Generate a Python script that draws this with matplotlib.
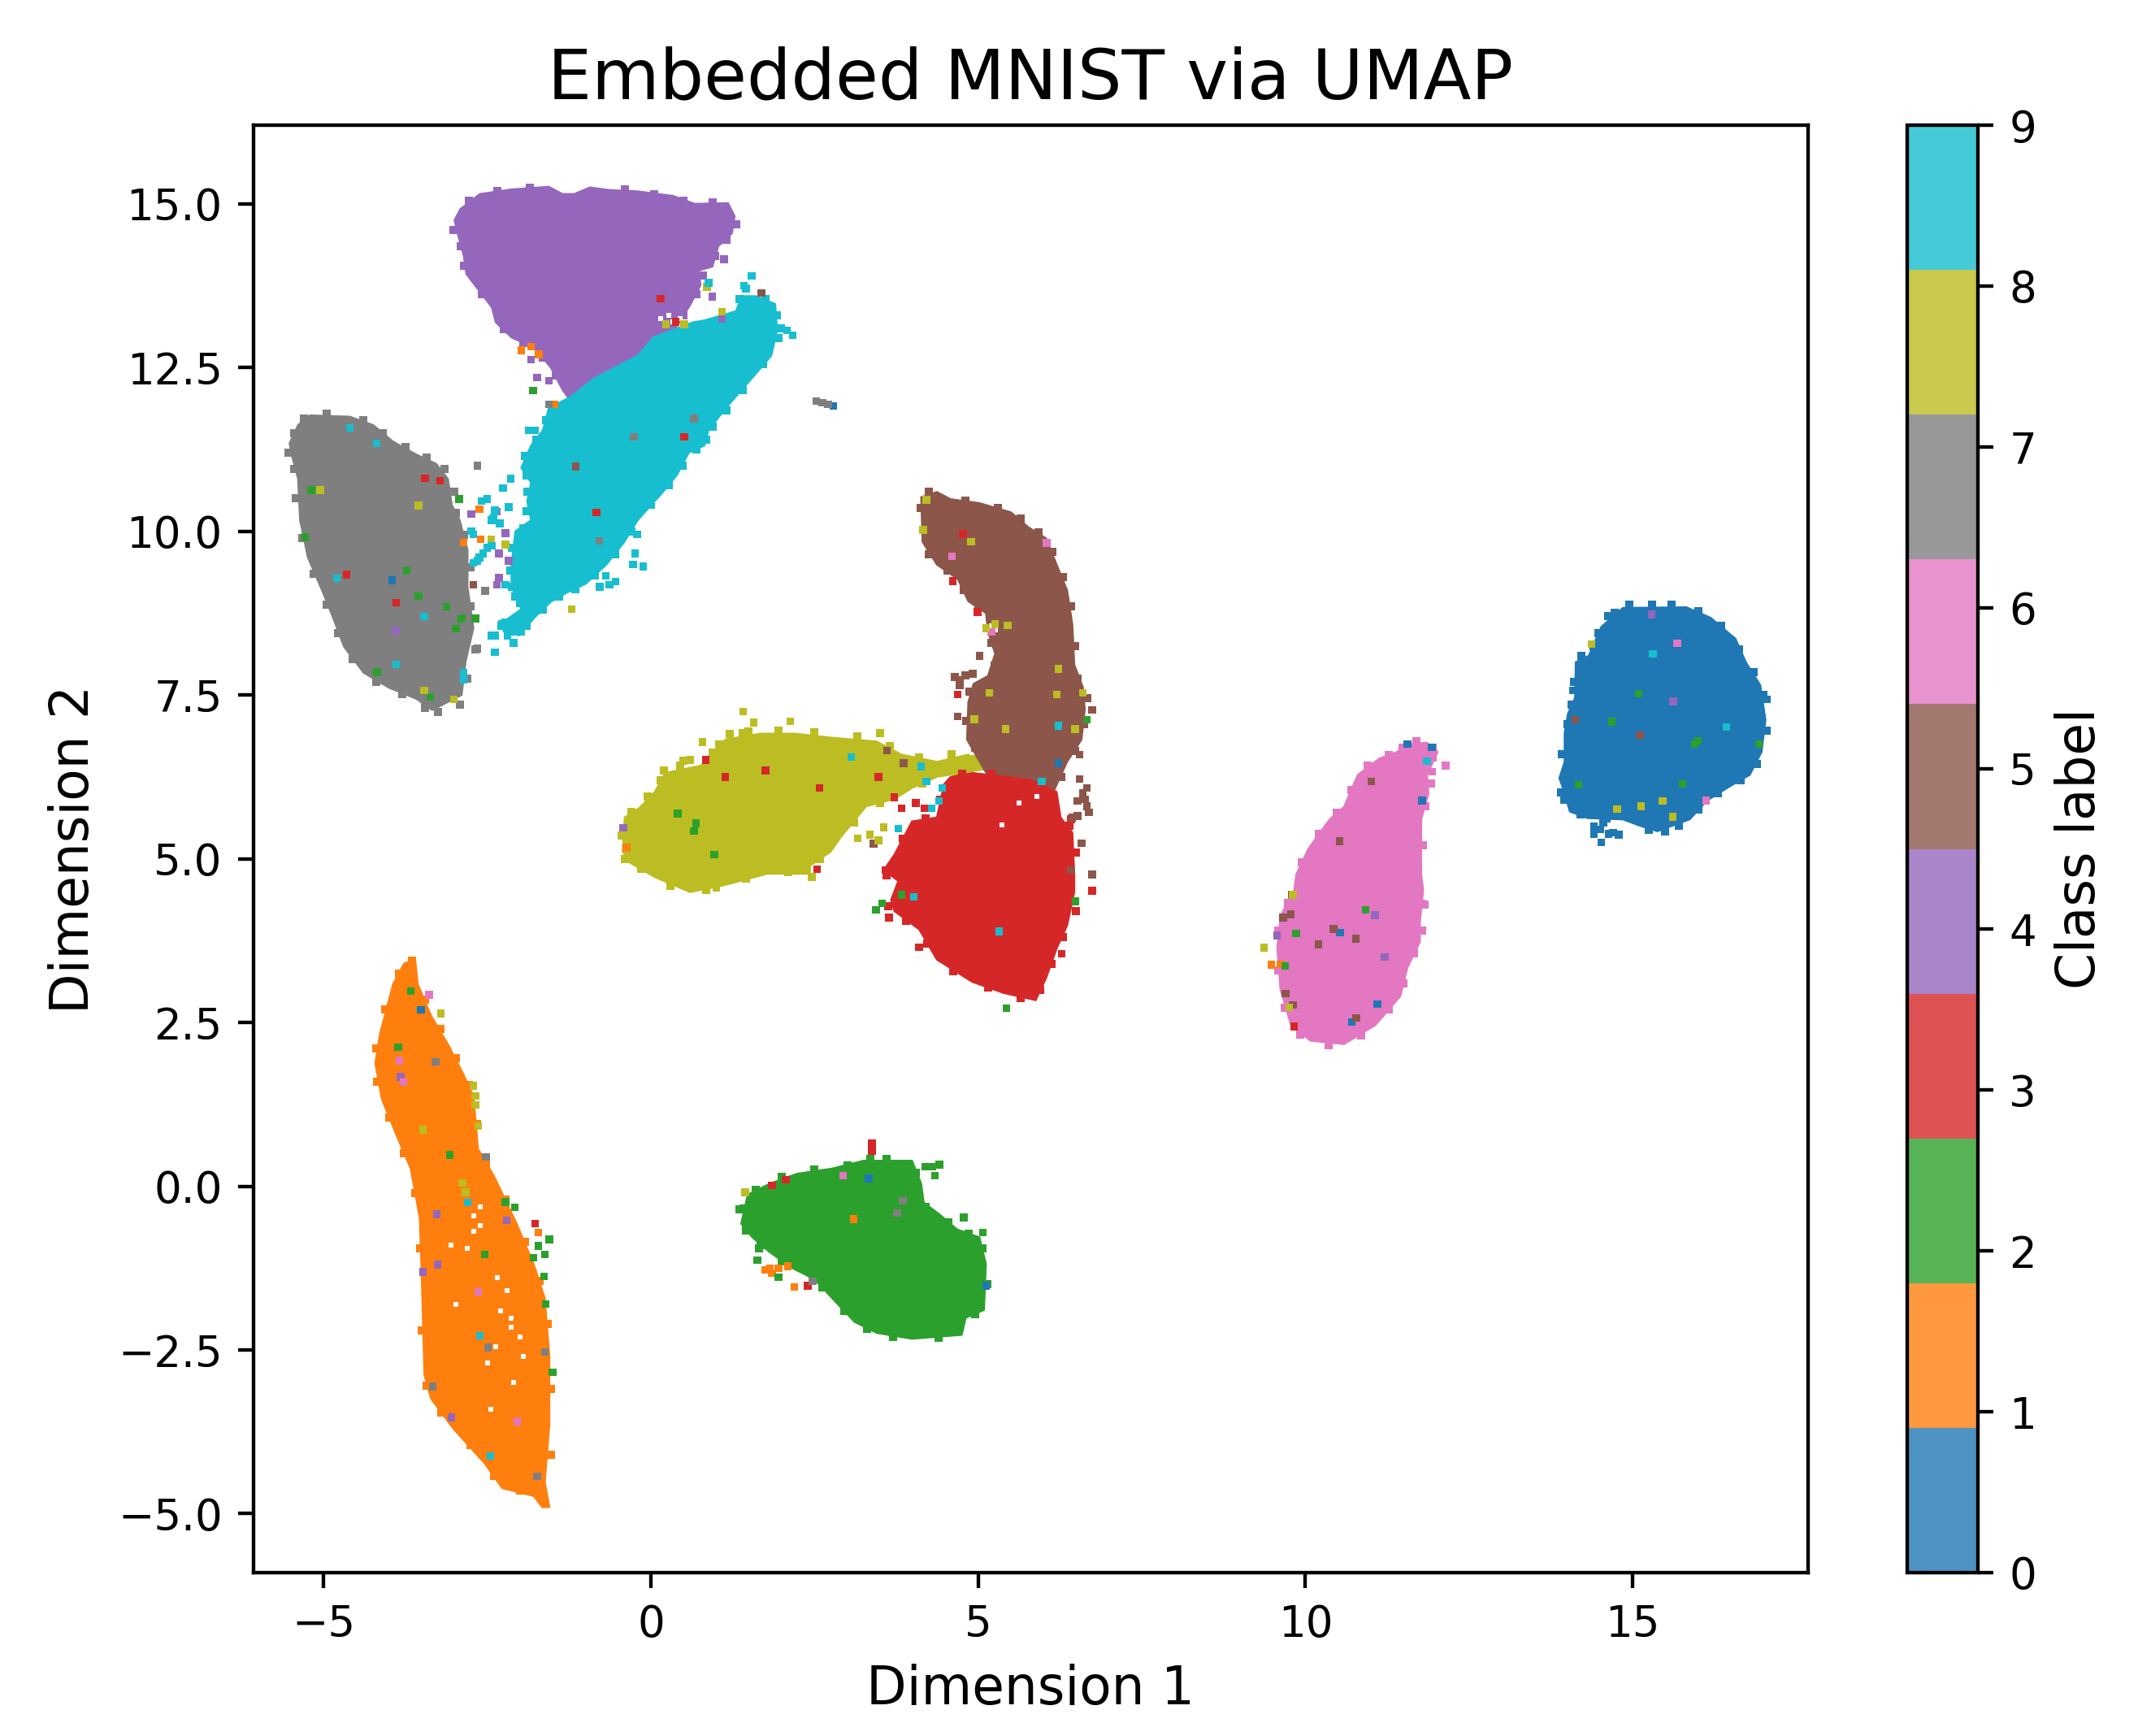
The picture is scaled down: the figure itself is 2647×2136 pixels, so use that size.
import matplotlib
matplotlib.use('Agg')
import matplotlib.pyplot as plt

# cluster outlines (x, y in embedding units)
outline_0 = [(14.85,8.83),(15.82,8.84),(16.19,8.68),(16.57,8.36),(16.73,8.00),(16.95,7.65),(17.03,7.12),(16.97,6.63),
             (16.79,6.28),(16.46,6.09),(16.14,5.89),(15.87,5.60),(15.38,5.42),(15.12,5.50),(14.85,5.60),(14.31,5.62),
             (14.04,5.72),(13.93,6.09),(13.88,6.23),(13.96,6.48),(13.96,6.92),(14.01,7.21),(14.12,7.46),(14.13,8.00),
             (14.33,8.10),(14.52,8.54)]
outline_1 = [(-3.60,3.46),(-3.56,3.08),(-3.36,2.61),(-3.09,2.15),(-2.88,1.74),(-2.71,1.38),(-2.64,0.57),(-2.40,0.16),
             (-2.06,-0.55),(-1.79,-1.19),(-1.62,-1.71),(-1.55,-2.59),(-1.55,-3.64),(-1.62,-4.52),(-1.55,-4.90),
             (-1.66,-4.90),(-1.79,-4.73),(-2.27,-4.61),(-2.54,-4.23),(-3.02,-3.70),(-3.36,-3.24),(-3.46,-2.88),
             (-3.50,-1.42),(-3.53,-0.49),(-3.67,0.27),(-3.87,0.74),(-4.11,1.33),(-4.21,1.88),(-4.14,2.32),(-3.94,3.08),
             (-3.77,3.40)]
outline_2 = [(1.38,-0.57),(1.48,-0.13),(1.82,0.04),(2.23,0.19),(2.77,0.27),(3.25,0.39),(3.99,0.39),(4.13,0.04),
             (4.17,-0.25),(4.41,-0.43),(4.68,-0.66),(5.02,-0.78),(5.12,-1.19),(5.09,-1.89),(4.81,-2.01),(4.75,-2.27),
             (3.99,-2.33),(3.45,-2.24),(3.11,-2.07),(2.77,-1.71),(2.50,-1.42),(2.16,-1.25),(1.82,-1.01),(1.55,-0.78)]
outline_3 = [(4.58,6.25),(4.91,6.31),(5.45,6.25),(5.80,6.20),(6.20,6.02),(6.26,5.63),(6.44,5.40),(6.47,4.77),(6.47,4.49),
             (6.36,3.98),(6.20,3.63),(6.04,3.18),(5.88,2.84),(5.39,2.95),(4.91,3.12),(4.37,3.46),(4.10,3.92),(3.72,4.20),
             (3.67,4.37),(3.78,4.66),(3.56,4.83),(3.72,5.06),(3.99,5.57),(4.37,5.63),(4.48,6.14)]
outline_4 = [(-3.00,14.75),(-2.91,14.92),(-2.61,15.15),(-2.13,15.22),(-1.56,15.26),(-1.35,15.15),(-1.17,15.15),(-0.93,15.25),
             (-0.63,15.21),(-0.20,15.19),(0.34,15.12),(0.67,15.00),(1.18,15.01),(1.28,14.81),(1.24,14.55),(1.03,14.35),
             (0.94,14.04),(0.73,13.98),(0.76,13.76),(0.61,13.47),(0.40,13.13),(0.04,12.90),(-0.32,12.60),(-0.68,12.30),
             (-1.05,12.15),(-1.23,11.99),(-1.35,12.16),(-1.53,12.50),(-1.77,12.79),(-2.13,12.96),(-2.37,13.19),(-2.43,13.42),
             (-2.73,13.81),(-2.82,13.93),(-2.86,14.21),(-2.94,14.50)]
outline_5 = [(4.13,10.52),(4.37,10.60),(4.58,10.49),(5.02,10.43),(5.50,10.29),(5.77,10.06),(6.04,9.89),(6.20,9.49),(6.36,9.10),
             (6.44,8.58),(6.47,7.96),(6.60,7.62),(6.63,7.28),(6.58,6.82),(6.36,6.48),(6.15,6.02),(5.82,5.95),(5.28,6.05),
             (5.07,6.40),(4.83,6.82),(4.85,7.39),(4.93,7.67),(5.15,7.79),(5.26,8.13),(5.15,8.47),(5.12,8.75),(4.85,8.93),
             (4.69,9.27),(4.37,9.49),(4.15,9.84)]
outline_6 = [(11.56,6.75),(11.86,6.77),(12.02,6.63),(11.86,6.28),(11.88,5.99),(11.77,5.60),(11.77,4.76),(11.80,4.52),
             (11.75,4.03),(11.75,3.73),(11.56,3.34),(11.45,2.90),(11.07,2.46),(10.59,2.17),(10.08,2.22),(9.78,2.46),
             (9.62,3.00),(9.57,3.64),(9.62,4.13),(9.83,4.52),(9.86,4.76),(10.05,5.16),(10.37,5.60),(10.59,5.79),(10.80,6.28),
             (11.13,6.53),(11.40,6.63)]
outline_7 = [(-5.52,11.34),(-5.39,11.62),(-5.21,11.77),(-4.60,11.75),(-4.24,11.62),(-3.94,11.37),(-3.58,11.17),(-3.28,11.03),
             (-3.10,10.80),(-3.04,10.40),(-2.92,10.17),(-2.80,9.72),(-2.80,9.15),(-2.71,8.52),(-2.83,8.01),(-2.89,7.50),
             (-3.34,7.27),(-3.58,7.44),(-4.00,7.61),(-4.39,7.84),(-4.69,8.24),(-4.84,8.64),(-5.02,9.09),(-5.24,9.60),
             (-5.36,10.17),(-5.39,10.80),(-5.48,11.14)]
outline_8 = [(-0.43,5.11),(-0.40,5.63),(-0.18,5.77),(0.06,6.02),(0.22,6.31),(0.76,6.42),(1.14,6.82),(1.67,6.91),(2.21,6.91),
             (2.75,6.85),(3.45,6.79),(3.83,6.59),(4.37,6.48),(4.85,6.59),(5.12,6.37),(4.37,6.25),(3.99,6.08),(3.72,5.91),
             (3.29,5.80),(2.91,5.34),(2.75,5.11),(2.43,4.89),(2.43,4.77),(1.78,4.77),(1.14,4.60),(0.60,4.49),(0.06,4.72),
             (-0.32,4.94)]
outline_9 = [(1.39,13.59),(1.60,13.59),(1.90,13.47),(1.93,13.07),(1.84,12.68),(1.54,12.33),(1.24,11.99),(1.06,11.77),(0.88,11.54),
             (0.82,11.31),(0.58,11.20),(0.40,10.86),(0.16,10.57),(-0.20,10.17),(-0.41,9.83),(-0.68,9.49),(-0.99,9.20),(-1.29,9.06),
             (-1.53,8.92),(-1.77,8.69),(-2.01,8.41),(-2.25,8.47),(-2.22,8.64),(-1.98,8.81),(-2.13,9.15),(-2.13,9.49),(-2.07,10.00),
             (-1.83,10.17),(-1.89,10.46),(-1.83,10.74),(-1.98,10.97),(-1.83,11.31),(-1.65,11.54),(-1.56,11.88),(-1.23,12.05),
             (-0.87,12.33),(-0.20,12.68),(0.04,12.96),(0.64,13.19),(0.82,13.22),(1.30,13.36)]
# drawing order: some clusters lie over their neighbours
draw_order = [0, 1, 2, 4, 9, 7, 8, 5, 3, 6]
outlines = [outline_0, outline_1, outline_2, outline_3, outline_4, outline_5, outline_6, outline_7, outline_8, outline_9]

# points on the rough rim of each cluster
edge_0 = [(14.62,8.70),(14.95,8.88),(15.3,8.88),(15.6,8.88),(16.0,8.78),(16.35,8.55),(16.62,8.2),(16.85,7.85),(17.0,7.5),(17.05,6.95),
          (16.9,6.45),(16.65,6.2),(16.3,6.0),(16.0,5.75),(15.7,5.5),(15.5,5.42),(15.25,5.44),(14.6,5.62),(14.2,5.68),(13.95,5.9),
          (13.92,6.6),(14.0,7.05),(14.07,7.35),(14.1,7.7),(14.22,8.1),(14.4,8.25),(14.48,8.45),(14.73,8.75)]
edge_1 = [(-3.65,3.45),(-3.45,2.85),(-3.22,2.4),(-2.98,1.95),(-2.78,1.55),(-2.65,0.95),(-2.52,0.35),(-2.22,-0.2),(-1.92,-0.85),(-1.7,-1.45),
          (-1.58,-2.1),(-1.52,-3.1),(-1.53,-4.1),(-2.0,-4.65),(-2.4,-4.42),(-2.75,-3.95),(-3.2,-3.45),(-3.42,-3.05),(-3.5,-2.2),(-3.52,-0.95),
          (-3.6,-0.1),(-3.77,0.5),(-4.0,1.05),(-4.18,1.6),(-4.2,2.1),(-4.06,2.7),(-3.85,3.25)]
edge_2 = [(1.36,-0.35),(1.6,-0.05),(2.0,0.14),(2.5,0.25),(3.0,0.32),(3.35,0.42),(3.6,0.42),(4.05,0.2),(4.2,-0.32),(4.55,-0.55),(4.85,-0.72),
          (5.07,-0.95),(5.14,-1.5),(4.95,-1.95),(4.4,-2.32),(3.7,-2.3),(3.3,-2.18),(2.95,-1.9),(2.62,-1.55),(2.0,-1.15),(1.68,-0.9),(1.45,-0.68)]
edge_3 = [(4.75,6.3),(5.2,6.3),(6.0,6.1),(6.4,5.5),(6.5,5.1),(6.5,4.2),(6.3,3.8),(6.12,3.4),(5.95,3.0),(5.65,2.87),(5.15,3.03),(4.62,3.28),
          (4.22,3.7),(3.9,4.05),(3.62,4.28),(3.6,4.75),(3.85,5.3),(4.2,5.62),(4.42,5.9)]
edge_4 = [(-3.02,14.6),(-2.78,15.05),(-2.35,15.2),(-1.85,15.25),(-0.4,15.22),(0.05,15.15),(0.5,15.05),(0.95,15.02),(1.3,14.68),(1.15,14.45),
          (0.98,14.2),(0.8,13.9),(0.7,13.62),(0.5,13.3),(-1.45,12.38),(-1.65,12.65),(-1.95,12.88),
          (-2.25,13.08),(-2.58,13.62),(-2.85,14.05),(-2.9,14.35)]
edge_5 = [(4.12,10.35),(4.25,10.6),(4.8,10.47),(5.3,10.36),(5.65,10.2),(5.92,9.98),(6.13,9.68),(6.3,9.3),(6.42,8.85),(6.48,8.25),(6.52,7.75),
          (6.67,7.45),(6.62,7.05),(6.48,6.65),(6.27,6.25),(4.95,6.7),(4.82,7.1),(4.87,7.55),(5.25,7.95),(5.2,8.3),(5.0,8.85),(4.78,9.1),(4.53,9.4),
          (4.25,9.65),(4.72,7.65),(4.65,7.78),(4.8,7.8),(4.92,7.82)]
edge_6 = [(11.7,6.79),(11.95,6.7),(11.95,6.55),(11.92,6.15),(11.83,5.8),(11.8,5.2),(11.82,4.3),(11.78,3.9),(11.66,3.55),(11.5,3.1),(11.28,2.7),
          (10.85,2.3),(10.35,2.15),(9.92,2.32),(9.68,2.72),(9.58,3.3),(9.58,3.9),(9.73,4.32),(9.95,4.95),(10.2,5.38),(10.48,5.7),(10.7,6.05),
          (10.95,6.42),(11.27,6.58),(11.48,6.7)]
edge_7 = [(-5.54,11.2),(-5.45,11.5),(-5.3,11.72),(-4.95,11.8),(-4.4,11.7),(-4.1,11.5),(-3.75,11.28),(-3.42,11.12),(-3.15,10.95),(-3.0,10.6),
          (-2.98,10.28),(-2.85,9.95),(-2.76,9.45),(-2.76,8.85),(-2.68,8.2),(-2.8,7.75),(-2.92,7.35),(-3.25,7.24),(-3.45,7.3),(-3.8,7.52),(-4.2,7.7),
          (-4.55,8.05),(-4.78,8.45),(-4.95,8.88),(-5.15,9.35),(-5.32,9.9),(-5.42,10.5),(-5.45,10.95)]
edge_8 = [(-0.45,5.35),(-0.3,5.72),(-0.05,5.95),(0.15,6.2),(0.45,6.42),(0.95,6.62),(1.4,6.92),(1.95,6.95),(2.5,6.93),(3.15,6.87),(3.65,6.72),
          (4.1,6.55),(4.6,6.6),(4.95,6.52),(4.7,6.3),(4.15,6.15),(3.5,5.85),(3.1,5.55),(2.58,5.0),(2.1,4.8),(1.45,4.7),(0.85,4.52),(0.3,4.58),
          (-0.15,4.85),(-0.4,5.0),(0.2,6.35),(0.5,6.5),(1.05,6.75),(1.2,6.9)]
edge_9 = [(1.35,13.55),(1.45,13.7),(1.75,13.55),(1.92,13.3),(1.95,12.95),(1.72,12.55),(1.4,12.15),(1.15,11.85),(0.95,11.6),(0.85,11.4),(0.7,11.25),
          (0.48,11.0),(0.28,10.7),(0.0,10.4),(-0.3,10.0),(-0.55,9.65),(-0.85,9.32),(-1.15,9.12),(-1.4,9.0),(-1.65,8.8),(-1.9,8.55),(-2.1,8.3),
          (-2.28,8.55),(-2.0,8.9),(-2.15,9.4),(-2.12,9.75),(-1.95,10.05),(-1.9,10.3),(-1.88,10.6),(-1.9,10.85),(-1.92,11.15),(-1.75,11.4),(-1.6,11.7)]
edges = [edge_0, edge_1, edge_2, edge_3, edge_4, edge_5, edge_6, edge_7, edge_8, edge_9]

# single points outside the clusters or of another class inside them
stray_0 = [(2.79,11.91),(-3.95,9.25),(-3.51,2.69),(3.33,0.12),(5.12,-1.52),(6.23,6.46),(11.56,6.75),(11.93,6.70),(11.78,5.89),
           (11.10,2.78),(10.71,2.51),(10.53,3.87),(14.41,5.50),(14.41,5.38),(14.55,5.55),(14.63,5.38),(14.79,5.37),(14.52,5.25),
           (13.90,6.01),(17.05,7.43),(14.09,7.57),(14.50,5.45),(14.70,5.40)]
stray_1 = [(-1.98,12.76),(-1.83,12.82),(-1.71,12.70),(-1.47,11.94),(-2.60,9.88),(-2.62,10.34),(-2.86,9.83),(-1.72,-0.71),
           (1.82,-1.25),(1.95,-1.25),(1.85,-1.33),(1.75,-1.28),(2.09,-1.22),(2.19,-1.54),(3.10,-0.50),(9.48,3.38),(9.62,3.39),
           (-0.37,5.17)]
stray_2 = [(-5.19,10.63),(-1.80,12.15),(-2.93,10.49),(-5.28,9.91),(-3.73,9.40),(-3.55,9.01),(-3.12,8.85),(-2.89,8.67),(-2.68,8.67),
           (-4.18,7.85),(-3.37,7.47),(-2.98,8.51),(5.43,2.72),(3.53,4.32),(3.44,4.22),(3.83,4.45),(6.49,4.35),(6.66,7.12),
           (0.41,5.69),(0.69,5.54),(0.66,5.42),(0.97,5.06),(-2.08,-0.32),(-2.22,-0.24),(-1.55,-0.81),(-1.72,-0.91),(-1.62,-1.04),
           (-1.79,-1.09),(-1.63,-1.38),(-1.61,-1.80),(-1.50,-2.84),(-3.67,2.98),(-3.86,2.12),(-2.54,-1.04),(-3.07,0.48),
           (4.30,0.30),(4.41,0.33),(4.20,0.30),(4.34,0.16),(4.78,-0.48),(5.07,-0.71),(1.65,-0.95),(1.63,-1.13),(1.95,-1.39),
           (1.41,-0.34),(10.92,4.22),(9.86,3.86),(9.69,3.36),(15.09,7.52),(14.68,7.09),(15.95,6.75),(16.00,6.80),(16.93,6.75),
           (14.17,6.13),(15.76,6.14)]
stray_3 = [(-3.45,10.81),(-3.22,10.77),(0.15,13.55),(0.38,13.20),(-0.83,10.29),(0.51,11.44),(-3.89,8.91),(-4.65,9.34),
           (6.74,4.51),(2.54,4.84),(0.84,6.51),(3.59,4.83),(3.64,4.10),(4.10,3.65),(6.28,3.55),(4.69,7.51),(4.99,8.77),(4.77,9.96),
           (4.61,9.24),(6.42,5.60),(1.14,6.25),(1.75,6.35),(2.58,6.08),(3.48,6.25),(4.05,5.85),(4.18,5.77),(3.83,5.77),(3.72,5.94),
           (-1.77,-0.57),(3.38,0.65),(3.38,0.54),(2.40,-1.52),(2.06,0.10),(1.85,0.01),(9.83,2.44)]
stray_4 = [(1.12,14.15),(-2.74,10.26),(-2.35,10.30),(-2.22,9.97),(-2.32,9.66),(-2.17,9.55),(-2.32,9.29),(-2.35,9.18),(-1.83,12.62),
           (-1.74,12.35),(-1.56,12.30),(0.94,13.58),(1.09,13.24),(-3.90,8.48),(-0.42,5.47),(-3.27,-0.43),(-3.26,-1.20),(-3.82,1.67),
           (-3.48,-1.31),(-3.05,-3.53),(-2.20,-0.52),(9.57,3.83),(11.06,4.14),(11.21,3.50),(15.62,7.40),(15.29,8.73)]
stray_5 = [(1.69,13.64),(-1.15,10.99),(-2.71,9.18),(5.02,8.10),(4.72,7.73),(4.69,7.17),(6.74,7.27),(6.55,6.59),(6.55,6.22),(6.66,6.08),
           (6.52,5.88),(6.63,5.91),(6.69,5.71),(6.52,5.65),(6.44,5.63),(6.58,5.24),(6.74,4.76),(6.42,4.83),(3.40,5.23),(3.61,6.65),
           (3.86,6.46),(6.60,6.00),(6.66,5.80),(11.01,6.18),(10.52,5.27),(9.79,4.45),(9.78,4.15),(9.66,4.10),(10.20,3.69),(9.70,2.94),
           (9.81,2.77),(10.78,2.57),(10.77,3.78),(10.43,3.93),(14.12,7.12),(15.11,6.89)]
stray_6 = [(4.60,9.62),(5.20,8.46),(6.05,9.82),(-3.39,2.92),(-3.84,1.92),(-3.78,1.59),(-2.64,-1.61),(-2.04,-3.59),(2.94,0.16),
           (12.14,6.42),(11.94,6.33),(11.77,4.32),(15.68,8.29),(16.12,5.89)]
stray_7 = [(2.62,11.96),(2.71,11.94),(2.53,11.99),(-0.26,11.44),(-0.79,9.85),(0.66,11.72),(-2.65,11.00),(-2.53,9.09),(-2.65,8.21),
           (-1.56,11.94),(-3.29,1.90),(-2.52,0.45),(-1.62,-2.53),(-3.33,-3.06),(-1.74,-4.43),(3.85,-0.22),(3.76,-0.41),(2.47,-1.45),
           (-2.49,-2.46)]
stray_8 = [(-5.05,10.63),(-3.55,10.39),(0.23,13.16),(0.51,13.16),(0.86,13.73),(1.09,13.35),(-1.21,8.81),(-3.46,7.57),(-3.01,7.43),
           (-2.44,9.88),(-2.22,9.80),(1.41,7.25),(1.57,7.08),(2.13,7.10),(1.49,6.95),(0.79,6.78),(0.60,6.51),(3.50,6.92),(3.48,5.28),
           (2.46,4.72),(1.00,4.56),(3.16,5.31),(3.35,5.37),(3.56,5.48),(4.21,10.48),(4.16,10.02),(4.89,9.84),(5.17,7.53),(6.20,7.51),
           (6.23,7.90),(6.48,6.98),(5.42,6.98),(4.94,7.13),(5.26,8.58),(5.45,8.56),(5.12,8.52),(6.60,7.53),(-3.21,2.64),(-2.71,1.53),
           (-2.68,1.38),(-2.68,1.24),(-2.64,0.92),(-3.48,0.86),(-2.88,0.05),(-2.83,-0.09),(1.44,-0.09),(9.37,3.64),(9.75,2.73),
           (14.37,8.28),(14.76,5.76),(15.13,5.80),(15.46,5.88),(15.61,5.64),(9.81,4.45)]
stray_9 = [(1.54,13.90),(1.42,13.75),(2.08,13.07),(2.17,12.99),(1.99,13.10),(0.88,13.79),(-2.50,10.49),(-2.59,10.46),(-2.26,10.66),
           (-2.14,10.80),(-2.41,10.20),(-2.17,10.37),(-2.74,10.00),(-2.50,9.75),(-2.62,9.60),(-2.71,9.52),(-2.13,9.15),(-2.08,9.00),
           (-2.22,8.61),(-2.38,8.41),(-2.38,8.15),(-2.07,8.47),(-2.86,7.84),(-2.86,7.73),(-0.21,9.95),(-0.24,9.66),(-0.27,9.49),
           (-0.12,9.46),(-0.69,9.32),(-0.54,9.23),(-0.78,9.15),(-0.63,9.18),(-1.77,11.54),(-1.86,11.54),(-4.80,9.28),(-3.89,7.97),
           (-3.46,8.70),(-4.60,11.58),(-4.19,11.34),(3.06,6.55),(4.13,6.41),(4.21,6.18),(4.45,6.08),(4.40,5.88),(4.29,5.77),(3.78,5.46),
           (5.97,6.18),(5.32,3.89),(4.02,4.42),(6.23,7.03),(-2.80,-0.25),(-2.45,-4.12),(-2.61,-2.28),(11.86,6.49),(16.43,7.01),(15.31,8.13),
           (-2.38,10.32),(-2.43,10.17),(-2.31,10.12),(-2.56,9.66),(-2.65,9.55),(-2.43,9.78),(-2.71,9.95),(-2.22,9.18),(-2.07,9.43),
           (-2.04,8.66),(-2.19,8.41),(-1.98,8.47),(-2.28,8.58),(-2.43,8.41)]
strays = [stray_0, stray_1, stray_2, stray_3, stray_4, stray_5, stray_6, stray_7, stray_8, stray_9]

# empty spots inside the clusters
gaps = [(-2.13,-2.01),(-2.13,-2.15),(-2.37,-2.45),(-2.61,-0.31),(-2.71,-0.69),(-2.85,-0.08),(-2.98,-1.80),
        (-2.7,-0.45),(-2.6,-0.6),(-2.8,-0.95),(-2.35,-1.4),(-2.2,-1.6),
        (-2.3,-1.9),(-2.0,-2.3),(-1.95,-2.6),(-2.5,-2.7),(-3.05,-0.9),
        (-2.45,-3.4),(-2.1,-3.0),
        (0.27,13.30),(0.33,13.20),(0.15,13.25),(0.45,13.25),(5.63,5.85),(5.37,5.51),(5.26,8.50),(5.20,8.55),(5.90,5.95)]

x_ticks = [-5, 0, 5, 10, 15]
y_ticks = [-5.0, -2.5, 0.0, 2.5, 5.0, 7.5, 10.0, 12.5, 15.0]
class_ticks = [0, 1, 2, 3, 4, 5, 6, 7, 8, 9]

plt.rcParams['xtick.labelsize'] = 9.7
plt.rcParams['ytick.labelsize'] = 9.7
fig = plt.figure(figsize=(2647 / 394, 2136 / 394), dpi=394)
ax = fig.add_axes([312 / 2647, 201 / 2136, 1913 / 2647, 1781 / 2136])
cax = fig.add_axes([2347 / 2647, 201 / 2136, 87 / 2647, 1781 / 2136])

cmap = plt.get_cmap('tab10')
for label in draw_order:
    xs = [p[0] for p in outlines[label]]
    ys = [p[1] for p in outlines[label]]
    ax.fill(xs, ys, color=cmap(label), lw=0.4, zorder=2)
    ax.scatter([p[0] for p in edges[label]], [p[1] for p in edges[label]], color=cmap(label), s=3, marker='s', linewidths=0, zorder=2)

ax.scatter([p[0] for p in gaps], [p[1] for p in gaps], c='white', s=1.2, marker='s', linewidths=0, zorder=3)

stray_x = []
stray_y = []
stray_label = []
for label, pts in enumerate(strays):
    for p in pts:
        stray_x.append(p[0])
        stray_y.append(p[1])
        stray_label.append(label)
sc = ax.scatter(stray_x, stray_y, c=stray_label, cmap='tab10', vmin=0, vmax=9, s=3, marker='s', linewidths=0, zorder=4)

ax.set_xlim(-6.07, 17.68)
ax.set_ylim(-5.9, 16.2)
ax.set_xticks(x_ticks)
ax.set_yticks(y_ticks)
ax.set_xlabel('Dimension 1', fontsize=11.8)
ax.set_ylabel('Dimension 2', fontsize=11.8)
ax.set_title('Embedded MNIST via UMAP', fontsize=15.7)

cbar = fig.colorbar(sc, cax=cax)
cbar.solids.set_alpha(0.8)
cbar.set_ticks(class_ticks)
cbar.set_label('Class label', fontsize=11.8)

fig.savefig('out.png', dpi=394)
